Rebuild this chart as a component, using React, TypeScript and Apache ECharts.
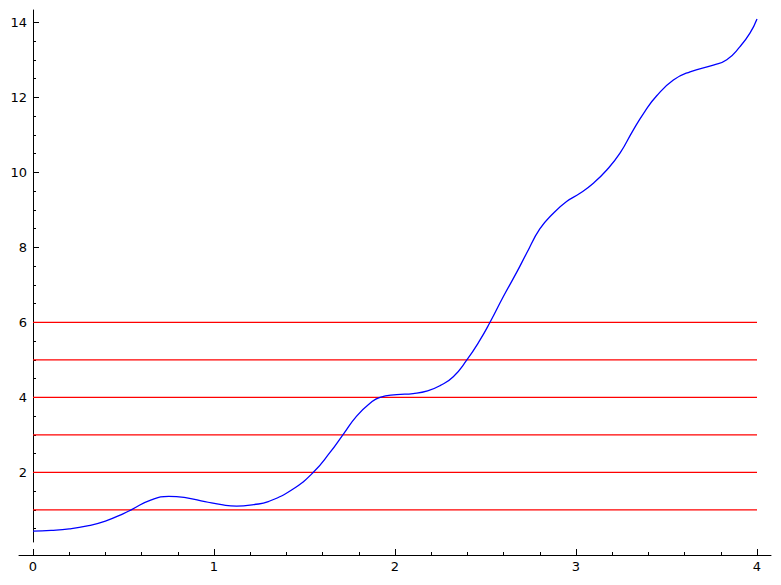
import React, { useEffect, useRef } from "react";
import * as echarts from "echarts";

const curveX = [0, 0.1, 0.2, 0.3, 0.4, 0.5, 0.55, 0.65, 0.75, 0.85, 0.95, 1.05, 1.125, 1.22, 1.3, 1.435, 1.549, 1.641, 1.715, 1.788, 1.862, 1.917, 2.009, 2.1, 2.18, 2.249, 2.322, 2.396, 2.47, 2.525, 2.598, 2.672, 2.727, 2.8, 2.875, 2.948, 3.022, 3.096, 3.17, 3.243, 3.313, 3.38, 3.446, 3.538, 3.63, 3.759, 3.833, 3.906, 3.961, 4.0];
const curveY = [0.43, 0.45, 0.49, 0.57, 0.7, 0.9, 1.02, 1.26, 1.36, 1.32, 1.22, 1.13, 1.1, 1.14, 1.22, 1.55, 2.0, 2.53, 3.02, 3.5, 3.84, 4.0, 4.07, 4.1, 4.17, 4.31, 4.55, 4.99, 5.53, 6.0, 6.68, 7.33, 7.84, 8.49, 8.91, 9.22, 9.44, 9.71, 10.06, 10.51, 11.1, 11.62, 12.04, 12.46, 12.68, 12.86, 13.0, 13.35, 13.71, 14.09];
const levels = [1, 2, 3, 4, 5, 6];
const levelXRange = [0, 4];
const xMajor = [0, 1, 2, 3, 4];
const xMinor = [0.2, 0.4, 0.6, 0.8, 1.2, 1.4, 1.6, 1.8, 2.2, 2.4, 2.6, 2.8, 3.2, 3.4, 3.6, 3.8];
const yMajor = [2, 4, 6, 8, 10, 12, 14];
const yMinor = [0.5, 1, 1.5, 2.5, 3, 3.5, 4.5, 5, 5.5, 6.5, 7, 7.5, 8.5, 9, 9.5, 10.5, 11, 11.5, 12.5, 13, 13.5];

const FONT = "DejaVu Sans";

export default function App() {
  const ref = useRef<HTMLDivElement>(null);
  useEffect(() => {
    if (!ref.current) return;
    const chart = echarts.init(ref.current, null, { renderer: "svg" });
    const xMin = -14 / 181;
    const xMax = 4 + 14 / 181;
    const yTop = 14.328;
    const option: any = {
      animation: false,
      backgroundColor: "#ffffff",
      grid: [
        { left: 19, top: 10, width: 752, height: 545, outerBoundsMode: "none", containLabel: false },
        { left: 33, top: 10, width: 724, height: 532, outerBoundsMode: "none", containLabel: false },
      ],
      xAxis: [
        {
          type: "value", gridIndex: 0, position: "bottom", min: xMin, max: xMax,
          axisLine: { show: true, onZero: false, lineStyle: { color: "#000", width: 1 } },
          axisTick: { show: true, inside: true, length: 6, customValues: xMajor, lineStyle: { color: "#000" } },
          axisLabel: { show: true, customValues: xMajor, margin: 5, color: "#000", fontSize: 13, fontFamily: FONT },
          splitLine: { show: false },
        },
        {
          type: "value", gridIndex: 1, position: "bottom", min: 0, max: 4, show: false,
          axisLine: { onZero: false },
        },
        {
          type: "value", gridIndex: 0, position: "bottom", min: xMin, max: xMax,
          axisLine: { show: false, onZero: false },
          axisTick: { show: true, inside: true, length: 3, customValues: xMinor, lineStyle: { color: "#000" } },
          axisLabel: { show: false },
          splitLine: { show: false },
        },
      ],
      yAxis: [
        {
          type: "value", gridIndex: 0, position: "left", min: -0.2053, max: yTop, show: false,
          axisLine: { onZero: false }, splitLine: { show: false },
        },
        {
          type: "value", gridIndex: 1, position: "left", min: 0.141, max: yTop,
          axisLine: { show: true, onZero: false, lineStyle: { color: "#000", width: 1 } },
          axisTick: { show: true, inside: true, length: 6, customValues: yMajor, lineStyle: { color: "#000" } },
          axisLabel: { show: true, customValues: yMajor, margin: 6, color: "#000", fontSize: 13, fontFamily: FONT },
          splitLine: { show: false },
        },
        {
          type: "value", gridIndex: 1, position: "left", min: 0.141, max: yTop,
          axisLine: { show: false, onZero: false },
          axisTick: { show: true, inside: true, length: 3, customValues: yMinor, lineStyle: { color: "#000" } },
          axisLabel: { show: false },
          splitLine: { show: false },
        },
      ],
      series: [
        ...levels.map((lv) => ({
          type: "line",
          xAxisIndex: 0,
          yAxisIndex: 0,
          data: levelXRange.map((x) => [x, lv]),
          symbol: "none",
          silent: true,
          lineStyle: { color: "#ff0000", width: 1.2 },
        })),
        {
          type: "line",
          xAxisIndex: 0,
          yAxisIndex: 0,
          data: curveX.map((x, i) => [x, curveY[i]]),
          symbol: "none",
          smooth: 0.5,
          silent: true,
          lineStyle: { color: "#0000ff", width: 1.3 },
        },
      ],
    };
    chart.setOption(option);
    return () => chart.dispose();
  }, []);
  return (
    <div
      ref={ref}
      style={{ position: "fixed", left: 0, top: 0, width: 781, height: 585, background: "#fff" }}
    />
  );
}
